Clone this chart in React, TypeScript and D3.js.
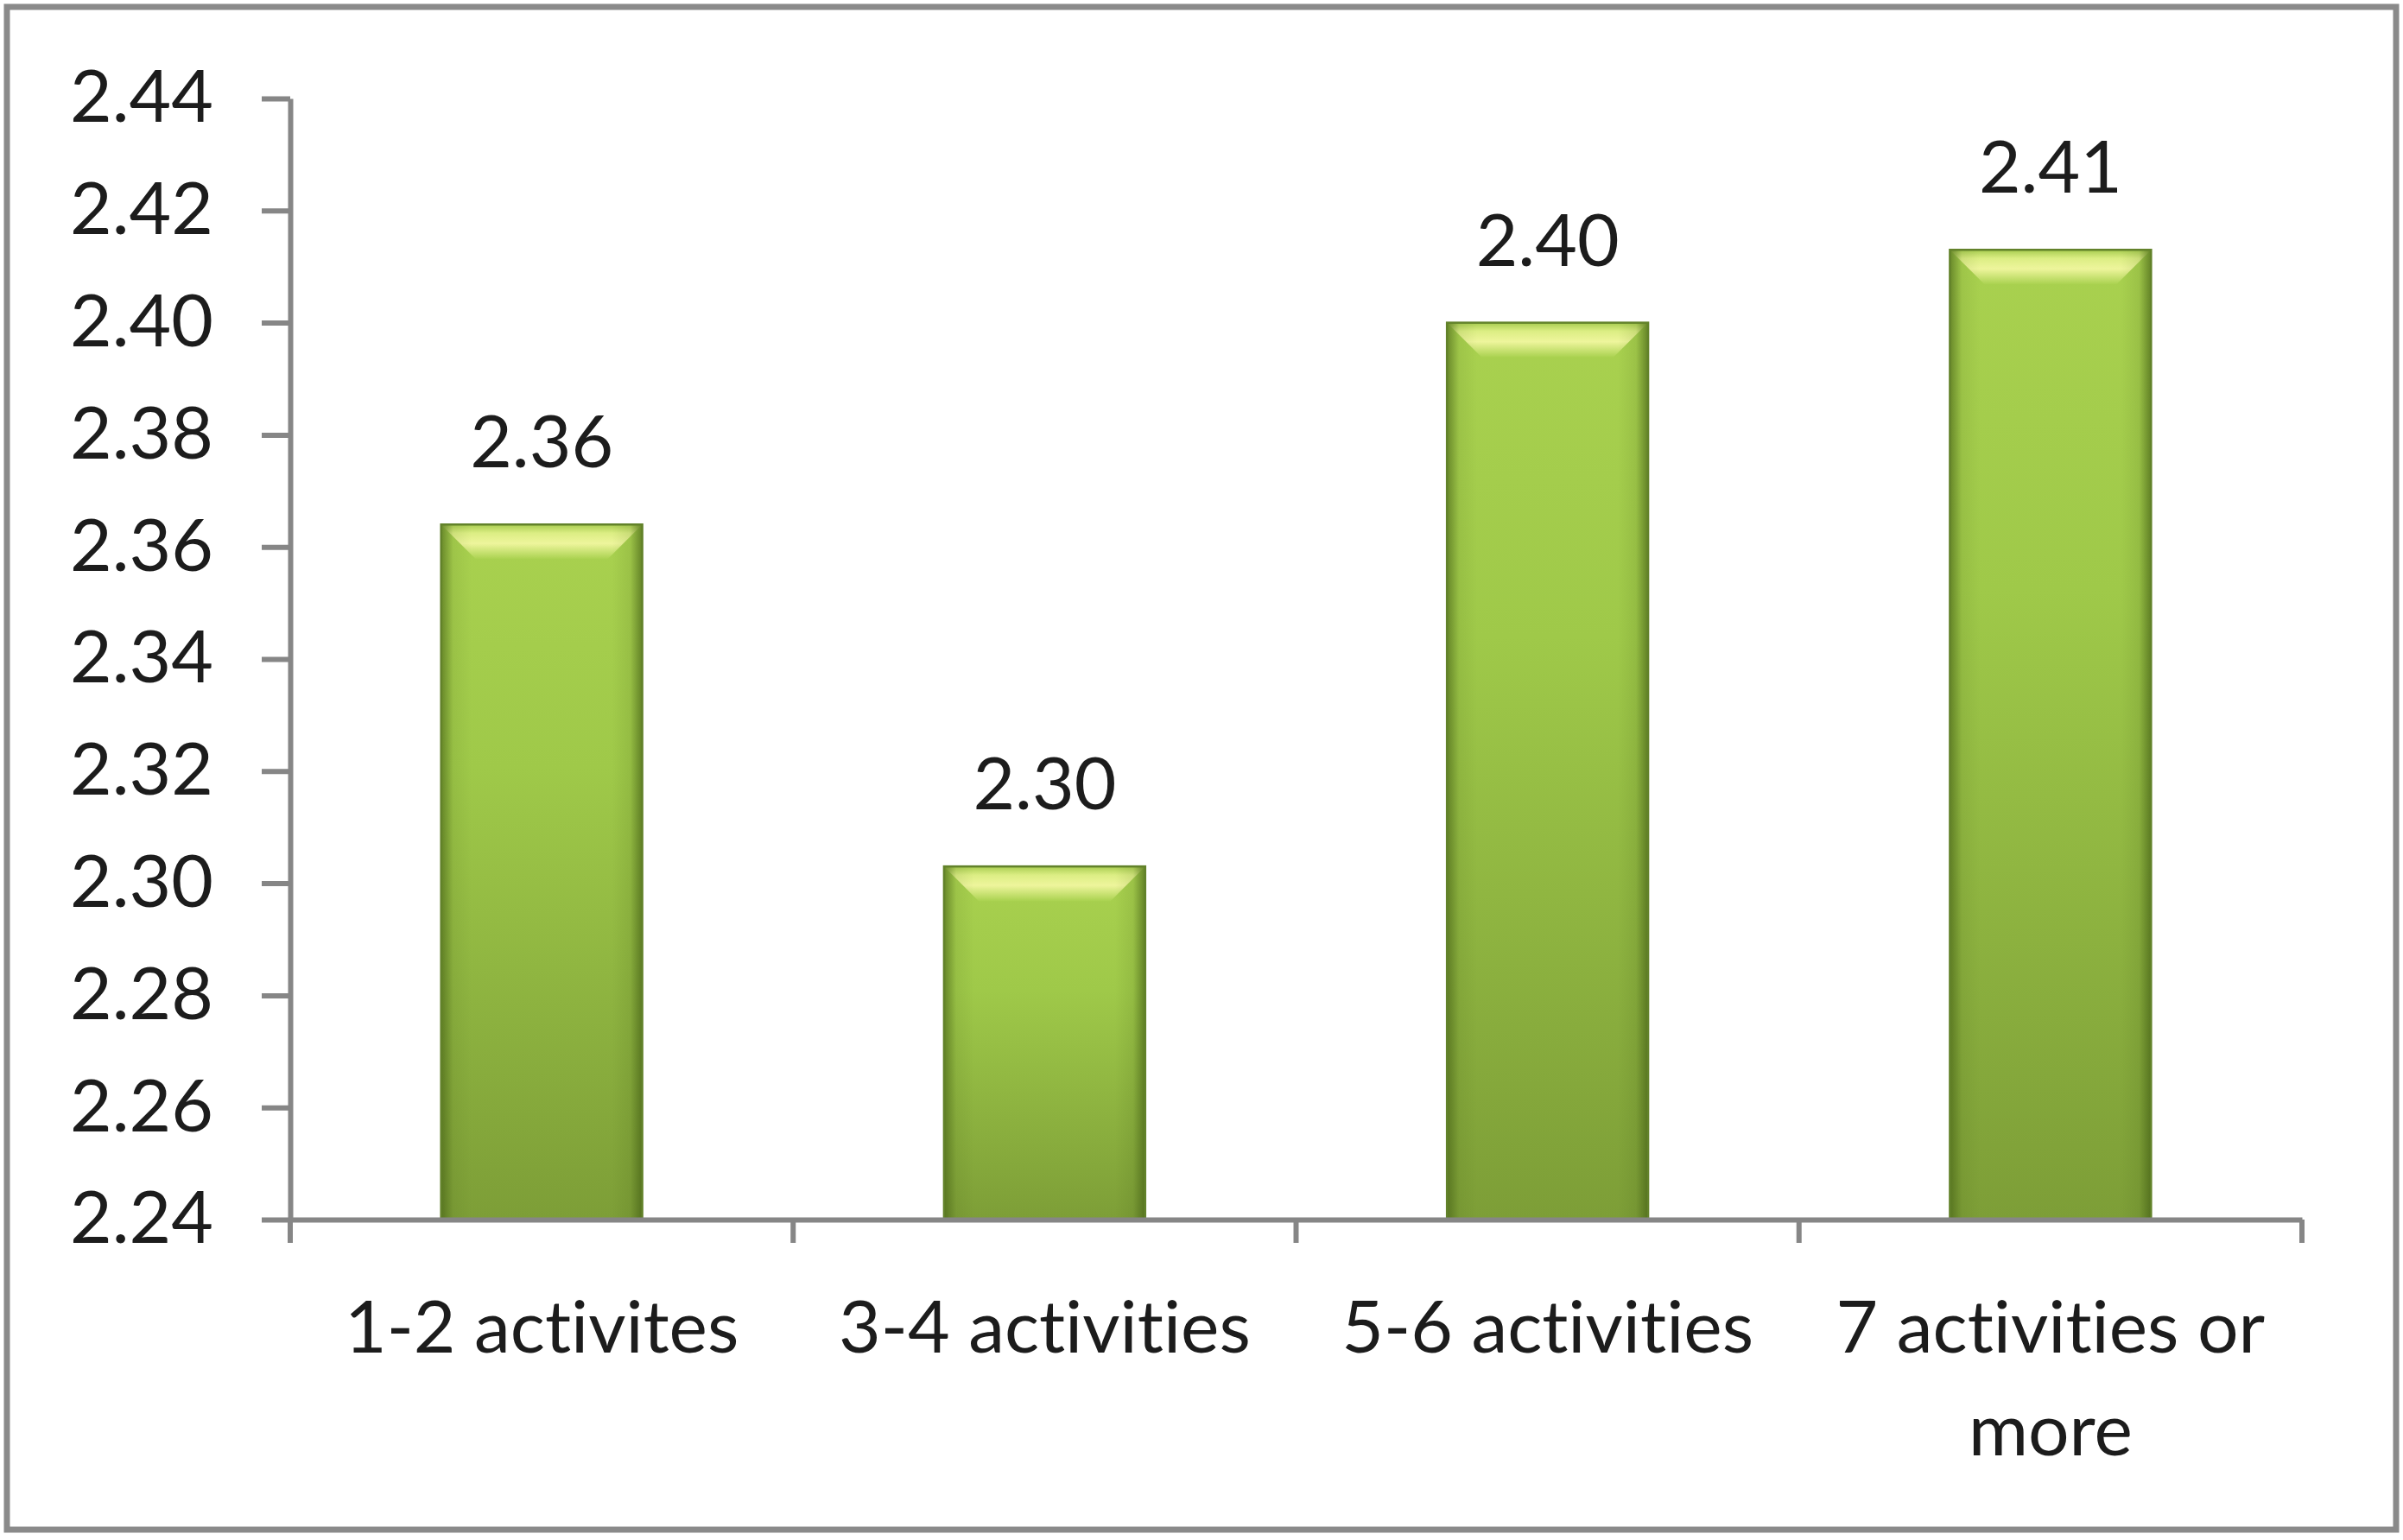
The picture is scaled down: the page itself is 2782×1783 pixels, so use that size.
import React, { useRef, useEffect } from 'react';
import * as d3 from 'd3';

const categories = ['1-2 activites', '3-4 activities', '5-6 activities', '7 activities or more'];
const values = [2.364, 2.303, 2.4, 2.413];
const valueLabels = ['2.36', '2.30', '2.40', '2.41'];
const yTicks = [2.24, 2.26, 2.28, 2.3, 2.32, 2.34, 2.36, 2.38, 2.4, 2.42, 2.44];

const W = 2782;
const H = 1783;

const BarChart = () => {
    const svgRef = useRef<SVGSVGElement | null>(null);

    useEffect(() => {
        document.body.style.margin = '0';
        const svg = d3.select(svgRef.current);
        svg.selectAll('*').remove();

        const margin = { top: 114, right: 117, bottom: 371, left: 336 };
        const font = 'Lato, "Open Sans", sans-serif';
        const axisColor = '#868686';

        const x = d3
            .scaleBand()
            .domain(categories)
            .range([margin.left, W - margin.right])
            .paddingInner(0.6)
            .paddingOuter(0.3);

        const y = d3
            .scaleLinear()
            .domain([2.24, 2.44])
            .range([H - margin.bottom, margin.top]);

        const defs = svg.append('defs');
        const vg = defs.append('linearGradient').attr('id', 'barFill').attr('x1', 0).attr('y1', 0).attr('x2', 0).attr('y2', 1);
        vg.append('stop').attr('offset', '0%').attr('stop-color', '#a9d14f');
        vg.append('stop').attr('offset', '35%').attr('stop-color', '#9fc949');
        vg.append('stop').attr('offset', '100%').attr('stop-color', '#7d9e37');

        const hg = defs.append('linearGradient').attr('id', 'barEdge').attr('x1', 0).attr('y1', 0).attr('x2', 1).attr('y2', 0);
        hg.append('stop').attr('offset', '0%').attr('stop-color', '#3f5a12').attr('stop-opacity', 0.6);
        hg.append('stop').attr('offset', '6%').attr('stop-color', '#3f5a12').attr('stop-opacity', 0.1);
        hg.append('stop').attr('offset', '15%').attr('stop-color', '#3f5a12').attr('stop-opacity', 0);
        hg.append('stop').attr('offset', '85%').attr('stop-color', '#3f5a12').attr('stop-opacity', 0);
        hg.append('stop').attr('offset', '94%').attr('stop-color', '#3f5a12').attr('stop-opacity', 0.12);
        hg.append('stop').attr('offset', '100%').attr('stop-color', '#3f5a12').attr('stop-opacity', 0.65);

        const tg = defs.append('linearGradient').attr('id', 'barTop').attr('x1', 0).attr('y1', 0).attr('x2', 0).attr('y2', 1);
        tg.append('stop').attr('offset', '0%').attr('stop-color', '#a8cc50');
        tg.append('stop').attr('offset', '25%').attr('stop-color', '#dcee84');
        tg.append('stop').attr('offset', '55%').attr('stop-color', '#eef59c');
        tg.append('stop').attr('offset', '100%').attr('stop-color', '#aad250');

        // outer frame
        svg.append('rect')
            .attr('x', 8).attr('y', 8)
            .attr('width', W - 16).attr('height', H - 20)
            .attr('fill', '#fff')
            .attr('stroke', '#8a8a8a')
            .attr('stroke-width', 7);

        const bw = x.bandwidth();
        const bevel = 40;

        const bars = svg.append('g')
            .selectAll('g')
            .data(categories)
            .join('g');

        bars.append('rect')
            .attr('x', (d) => x(d)!)
            .attr('y', (d, i) => y(values[i]))
            .attr('width', bw)
            .attr('height', (d, i) => y(2.24) - y(values[i]))
            .attr('fill', 'url(#barFill)');

        bars.append('path')
            .attr('d', (d, i) => {
                const x0 = x(d)!;
                const y0 = y(values[i]);
                return `M${x0},${y0}L${x0 + bw},${y0}L${x0 + bw - bevel},${y0 + bevel}L${x0 + bevel},${y0 + bevel}Z`;
            })
            .attr('fill', 'url(#barTop)');

        bars.append('rect')
            .attr('x', (d) => x(d)!)
            .attr('y', (d, i) => y(values[i]))
            .attr('width', bw)
            .attr('height', (d, i) => y(2.24) - y(values[i]))
            .attr('fill', 'url(#barEdge)')
            .attr('stroke', '#62822a')
            .attr('stroke-width', 2.5);

        // value labels
        bars.append('text')
            .attr('x', (d) => x(d)! + bw / 2)
            .attr('y', (d, i) => y(values[i]) - 66)
            .attr('text-anchor', 'middle')
            .attr('font-family', font)
            .attr('font-size', 84)
            .attr('fill', '#1c1c1c')
            .text((d, i) => valueLabels[i]);

        // y axis
        const yAxis = svg.append('g')
            .attr('transform', `translate(${margin.left},0)`)
            .call(d3.axisLeft(y).tickValues(yTicks).tickFormat(d3.format('.2f')).tickSize(33).tickPadding(56).tickSizeOuter(0));
        yAxis.select('.domain').attr('stroke', axisColor).attr('stroke-width', 6);
        yAxis.selectAll('.tick line').attr('stroke', axisColor).attr('stroke-width', 6);
        yAxis.selectAll('.tick text')
            .attr('font-family', font)
            .attr('font-size', 84)
            .attr('fill', '#1c1c1c');

        // x axis
        const xAxis = svg.append('g')
            .attr('transform', `translate(0,${y(2.24)})`)
            .call(d3.axisBottom(x).tickSize(0).tickPadding(0).tickSizeOuter(0));
        xAxis.select('.domain').attr('stroke', axisColor).attr('stroke-width', 6);
        xAxis.selectAll('.tick line').remove();

        const step = x.step();
        const edges = d3.range(categories.length + 1).map((i) => margin.left + i * step);
        xAxis.selectAll('line.sep')
            .data(edges)
            .join('line')
            .attr('class', 'sep')
            .attr('x1', (d) => d).attr('x2', (d) => d)
            .attr('y1', 0).attr('y2', 27)
            .attr('stroke', axisColor)
            .attr('stroke-width', 6);

        xAxis.selectAll('.tick text')
            .attr('font-family', font)
            .attr('font-size', 84)
            .attr('fill', '#1c1c1c')
            .style('font-variant-ligatures', 'none')
            .attr('y', 154)
            .attr('dy', 0)
            .each(function (d) {
                const t = d3.select(this);
                const words = String(d).split(' ');
                t.text(null);
                let line: string[] = [];
                let lineNo = 0;
                let tspan = t.append('tspan').attr('x', 0).attr('y', 154);
                for (const w of words) {
                    line.push(w);
                    tspan.text(line.join(' '));
                    if ((tspan.node() as SVGTSpanElement).getComputedTextLength() > step - 20 && line.length > 1) {
                        line.pop();
                        tspan.text(line.join(' '));
                        line = [w];
                        lineNo += 1;
                        tspan = t.append('tspan').attr('x', 0).attr('y', 154 + lineNo * 119).text(w);
                    }
                }
            });
    }, []);

    return <svg ref={svgRef} width={W} height={H} style={{ display: 'block' }}></svg>;
};

export default function App() {
    return <BarChart />;
}
